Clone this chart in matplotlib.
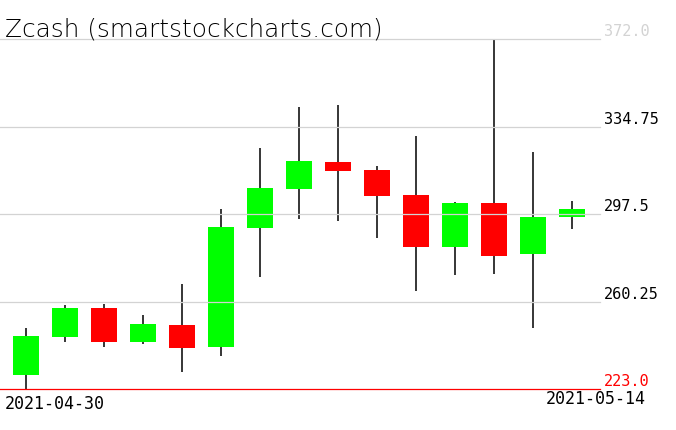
#!/usr/bin/env python3
import matplotlib
matplotlib.use('Agg')
import matplotlib.pyplot as plt
import numpy as np

# daily OHLC
dates = ['2021-04-30', '2021-05-01', '2021-05-02', '2021-05-03', '2021-05-04',
         '2021-05-05', '2021-05-06', '2021-05-07', '2021-05-08', '2021-05-09',
         '2021-05-10', '2021-05-11', '2021-05-12', '2021-05-13', '2021-05-14']
opens = [229.1, 245.3, 257.5, 243.1, 250.2, 241.0, 291.7, 308.3, 319.6, 316.2, 305.6, 283.6, 302.2, 280.6, 296.4]
highs = [249.0, 258.8, 259.2, 254.5, 267.7, 299.6, 325.6, 343.1, 343.9, 317.9, 330.7, 302.6, 372.0, 323.9, 303.0]
lows = [223.0, 243.1, 241.0, 242.3, 230.1, 237.2, 270.8, 295.5, 294.6, 287.4, 264.8, 271.7, 272.1, 248.8, 291.1]
closes = [245.6, 257.5, 243.1, 250.7, 240.6, 292.0, 308.6, 320.1, 315.9, 305.3, 283.6, 302.2, 279.7, 296.2, 299.6]

title = 'Zcash (smartstockcharts.com)'

W, H = 676, 431
fig = plt.figure(figsize=(W/100, H/100), dpi=100)
# plot area: x 0..600 px, y 40..390 px
ax = fig.add_axes([0, (H-390)/H, 600/W, 350/H])

ymin = min(lows)
ymax = max(highs)
step = (ymax - ymin) / 4
levels = [ymin + k*step for k in range(5)]

idx = np.arange(len(dates))
bw = 0.69
for i in idx:
    o, h, l, c = opens[i], highs[i], lows[i], closes[i]
    col = '#00ff00' if c >= o else '#ff0000'
    ax.vlines(i, l, h, color='k', lw=1.1, zorder=1)
    ax.bar(i, abs(c-o), bottom=min(o, c), width=bw, color=col, lw=0, zorder=2)

for k, lev in enumerate(levels):
    if k == 0:
        ax.axhline(lev, color='#ff0000', lw=0.9, zorder=4, clip_on=False)
        tc = '#ff0000'
    else:
        ax.axhline(lev, color='#d3d3d3', lw=0.9, zorder=3, clip_on=False)
        tc = '#d3d3d3' if k == 4 else 'k'
    lab = '{:g}'.format(lev)
    if '.' not in lab:
        lab += '.0'
    fig.text(604/W, (H-390 + 350*k/4)/H + 0.002, lab, color=tc,
             family='DejaVu Sans Mono', fontsize=11, ha='left', va='bottom')

ax.set_xlim(-26/39, (600-26)/39)
ax.set_ylim(ymin, ymax)
ax.axis('off')

fig.text(5/W, (H-37)/H, title, family='DejaVu Sans', fontweight='ultralight',
         color='k', fontsize=17.8, ha='left', va='baseline')
fig.text(5/W, (H-395)/H, dates[0], family='DejaVu Sans Mono', fontsize=12,
         ha='left', va='top')
fig.text(646/W, (H-390)/H, dates[-1], family='DejaVu Sans Mono', fontsize=12,
         ha='right', va='top')

plt.savefig('out.png', dpi=100)
